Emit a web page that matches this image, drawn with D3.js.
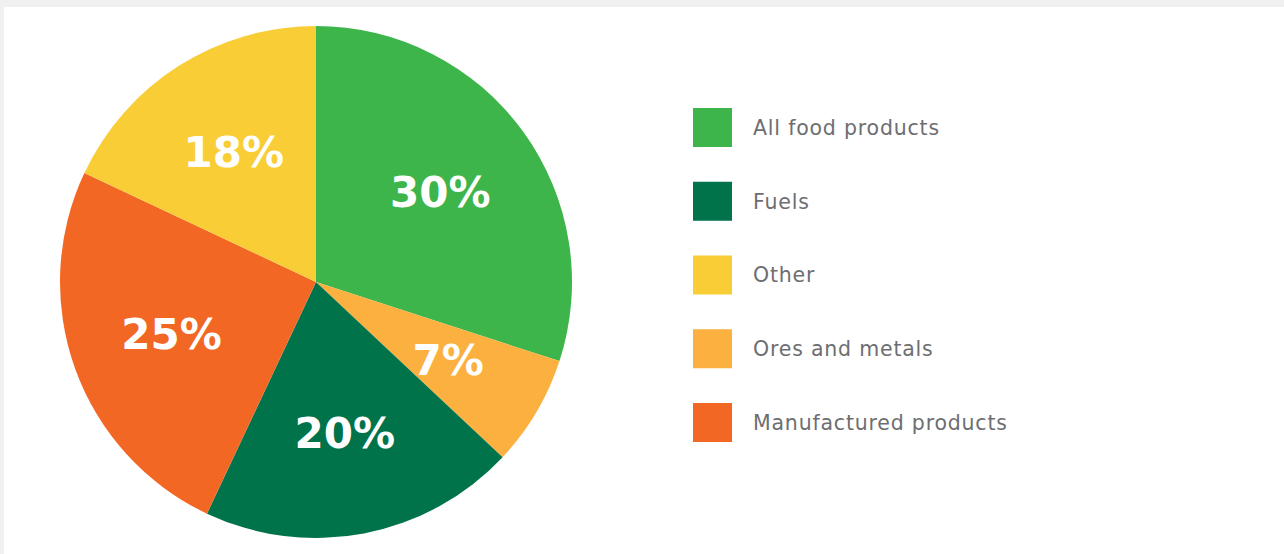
<!DOCTYPE html>
<html>
<head>
<meta charset="utf-8">
<script src="https://cdn.jsdelivr.net/npm/d3@7"></script>
<style>
  html, body { margin: 0; padding: 0; background: #f0f0f0; }
  svg { display: block; }
</style>
</head>
<body>
<svg id="chart" width="1284" height="554"></svg>
<script>
// Share of exports by product group (percent), clockwise from 12 o'clock
const sliceCategories = ["All food products", "Ores and metals", "Fuels", "Manufactured products", "Other"];
const sliceValues = [30, 7, 20, 25, 18];

// Legend order
const legendCategories = ["All food products", "Fuels", "Other", "Ores and metals", "Manufactured products"];

const colorRange = ["#3db54a", "#fbb040", "#00734b", "#f26724", "#f9cd36"];

const W = 1284, H = 554;
const svg = d3.select("#chart");

// white panel
svg.append("rect")
  .attr("x", 4).attr("y", 7)
  .attr("width", W - 4).attr("height", H - 7)
  .attr("fill", "#ffffff");

const color = d3.scaleOrdinal().domain(sliceCategories).range(colorRange);

const cx = 316, cy = 282, R = 256;
const data = sliceCategories.map((c, i) => ({ category: c, value: sliceValues[i] }));

const pie = d3.pie().value(d => d.value).sort(null);
const arc = d3.arc().innerRadius(0).outerRadius(R);
const labelArc = d3.arc().innerRadius(R * 0.6).outerRadius(R * 0.6);

const g = svg.append("g").attr("transform", `translate(${cx},${cy})`);
const arcs = pie(data);

g.selectAll("path.slice")
  .data(arcs)
  .join("path")
  .attr("class", "slice")
  .attr("d", arc)
  .attr("fill", d => color(d.data.category));

g.selectAll("text.pct")
  .data(arcs)
  .join("text")
  .attr("class", "pct")
  .attr("transform", d => `translate(${labelArc.centroid(d)})`)
  .attr("text-anchor", "middle")
  .attr("dy", "0.36em")
  .attr("fill", "#ffffff")
  .style("font-family", "'DejaVu Sans', sans-serif")
  .style("font-weight", "bold")
  .style("font-size", "42px")
  .text(d => d.data.value + "%");

// legend
const legendY = d3.scalePoint().domain(legendCategories).range([127.5, 422.5]);
const legend = svg.append("g");
const items = legend.selectAll("g")
  .data(legendCategories)
  .join("g")
  .attr("transform", d => `translate(693,${legendY(d)})`);

items.append("rect")
  .attr("x", 0).attr("y", -19.5)
  .attr("width", 39).attr("height", 39)
  .attr("fill", d => color(d));

items.append("text")
  .attr("x", 60)
  .attr("dy", "0.36em")
  .attr("fill", "#6d6e71")
  .style("font-family", "'DejaVu Sans', sans-serif")
  .style("font-size", "20.5px")
  .style("letter-spacing", "0.8px")
  .text(d => d);
</script>
</body>
</html>
